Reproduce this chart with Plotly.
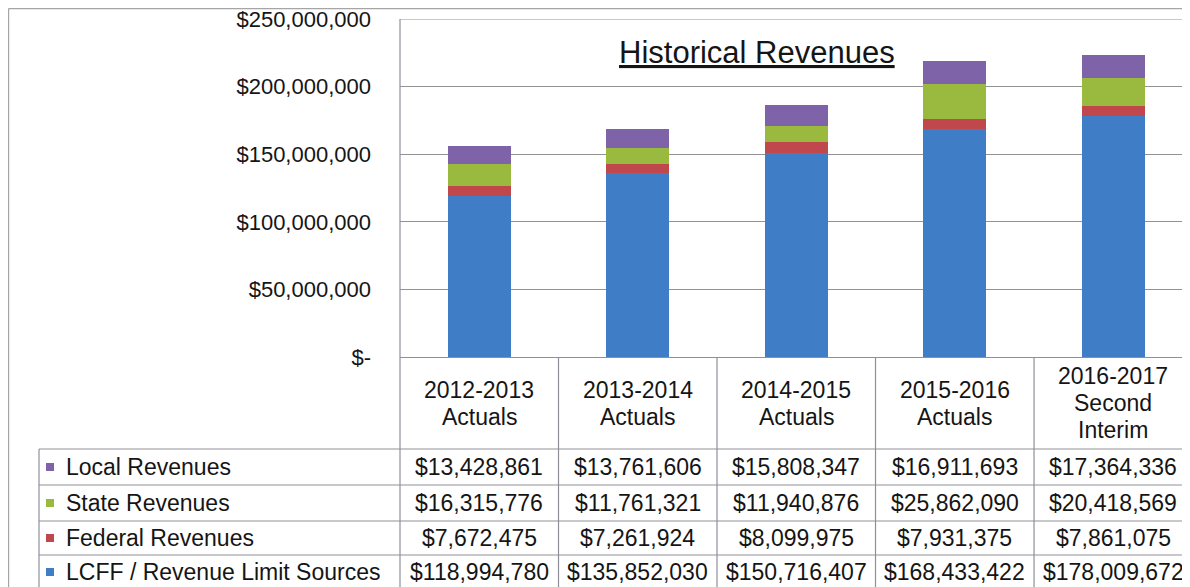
import plotly.graph_objects as go

categories = ["2012-2013<br>Actuals", "2013-2014<br>Actuals", "2014-2015<br>Actuals",
              "2015-2016<br>Actuals", "2016-2017<br>Second<br>Interim"]
series_names = ["Local Revenues", "State Revenues", "Federal Revenues", "LCFF / Revenue Limit Sources"]
local_rev = [13428861, 13761606, 15808347, 16911693, 17364336]
state_rev = [16315776, 11761321, 11940876, 25862090, 20418569]
federal_rev = [7672475, 7261924, 8099975, 7931375, 7861075]
lcff_rev = [118994780, 135852030, 150716407, 168433422, 178009672]
colors = {"Local Revenues": "#7e63a9", "State Revenues": "#99ba3e",
          "Federal Revenues": "#c0474b", "LCFF / Revenue Limit Sources": "#3f7dc7"}
tick_vals = [0, 50000000, 100000000, 150000000, 200000000, 250000000]
tick_text = ["$-", "$50,000,000", "$100,000,000", "$150,000,000", "$200,000,000", "$250,000,000"]
title_text = "Historical Revenues"

values = {"Local Revenues": local_rev, "State Revenues": state_rev,
          "Federal Revenues": federal_rev, "LCFF / Revenue Limit Sources": lcff_rev}

# page has an 8px body margin; work in page pixel coordinates
OFF = 8
PW, PH = 1190, 587
FW, FH = PW - OFF, PH - OFF
PL, PT, PB = 400, 19, 357  # plot area bounds in page pixels
FONT = "Liberation Sans, Arial, sans-serif"
LINE = "#8f8f9a"
GRID = "#939393"
TXT = "#151515"

def px_x(p):
    return (p - PL) / (PW - PL)

def px_y(p):
    return (PB - p) / (PB - PT)

xs = list(range(len(categories)))
fig = go.Figure()
for name in ["LCFF / Revenue Limit Sources", "Federal Revenues", "State Revenues", "Local Revenues"]:
    fig.add_trace(go.Bar(x=xs, y=values[name], name=name,
                         marker=dict(color=colors[name], line=dict(width=0)), showlegend=False))

shapes = []
annotations = []

# outer frame
shapes.append(dict(type="line", xref="paper", yref="paper", x0=px_x(8.6), x1=px_x(1200), y0=px_y(8.6), y1=px_y(8.6),
                   line=dict(color="#a5a5a5", width=1.2)))
shapes.append(dict(type="line", xref="paper", yref="paper", x0=px_x(8.6), x1=px_x(8.6), y0=px_y(8.6), y1=px_y(600),
                   line=dict(color="#a5a5a5", width=1.2)))

# top gridline of plot area (the 250M line)
shapes.append(dict(type="line", xref="paper", yref="y", x0=0, x1=1.02, y0=tick_vals[-1], y1=tick_vals[-1],
                   line=dict(color=GRID, width=1.2), layer="below"))

# table lines
shapes.append(dict(type="line", xref="paper", yref="paper", x0=0, x1=0, y0=1, y1=px_y(600),
                   line=dict(color=LINE, width=1.2)))
for i in range(len(categories)):
    xb = i + 0.5
    shapes.append(dict(type="line", xref="x", yref="paper", x0=xb, x1=xb, y0=0, y1=px_y(600),
                       line=dict(color=LINE, width=1.2)))
row_lines = [449, 485, 521, 555]
for yl in row_lines:
    shapes.append(dict(type="line", xref="paper", yref="paper", x0=px_x(39), x1=px_x(1200),
                       y0=px_y(yl), y1=px_y(yl), line=dict(color=LINE, width=1.2)))
shapes.append(dict(type="line", xref="paper", yref="paper", x0=px_x(39), x1=px_x(39), y0=px_y(449), y1=px_y(600),
                   line=dict(color=LINE, width=1.2)))

# header annotations (one per line, 27px spacing, centred in header row)
HEAD_C, HEAD_SP = 403, 27
for i, c in enumerate(categories):
    lines = c.split("<br>")
    n = len(lines)
    for k, ln in enumerate(lines):
        yc = HEAD_C + (k - (n - 1) / 2) * HEAD_SP
        annotations.append(dict(x=i, y=px_y(yc), xref="x", yref="paper", text=ln, showarrow=False,
                                xanchor="center", yanchor="middle",
                                font=dict(family=FONT, size=23, color=TXT)))

# rows
row_centers = [467, 503, 538, 572]
for name, yc in zip(series_names, row_centers):
    shapes.append(dict(type="rect", xref="paper", yref="paper", x0=px_x(46), x1=px_x(54),
                       y0=px_y(yc - 4), y1=px_y(yc + 4), fillcolor=colors[name], line=dict(width=0)))
    annotations.append(dict(x=px_x(64), y=px_y(yc), xref="paper", yref="paper", text=name, showarrow=False,
                            xanchor="left", yanchor="middle",
                            font=dict(family=FONT, size=23, color=TXT)))
    for i, v in enumerate(values[name]):
        annotations.append(dict(x=i, y=px_y(yc), xref="x", yref="paper", text=f"${v:,}", showarrow=False,
                                xanchor="center", yanchor="middle",
                                font=dict(family=FONT, size=23, color=TXT)))

# title
annotations.append(dict(x=px_x(757), y=px_y(52), xref="paper", yref="paper", text=f"<u>{title_text}</u>",
                        showarrow=False, xanchor="center", yanchor="middle",
                        font=dict(family=FONT, size=31, color=TXT)))

fig.update_layout(
    width=FW, height=FH,
    margin=dict(l=PL - OFF, r=0, t=PT - OFF, b=FH - (PB - OFF), pad=0),
    paper_bgcolor="white", plot_bgcolor="white",
    barmode="stack", bargap=0.6,
    shapes=shapes, annotations=annotations,
    xaxis=dict(range=[-0.5, 4.484], showticklabels=False, showgrid=False, zeroline=False,
               showline=True, linecolor=LINE, linewidth=1.2, fixedrange=True),
    yaxis=dict(range=[0, 250000000], tickvals=tick_vals, ticktext=tick_text, showgrid=True,
               gridcolor=GRID, gridwidth=1.2, zeroline=False, showline=False,
               ticks="", ticklabelstandoff=28, ticklabeloverflow="allow",
               tickfont=dict(family=FONT, size=22, color=TXT), fixedrange=True),
)

fig.write_html("out.html")
